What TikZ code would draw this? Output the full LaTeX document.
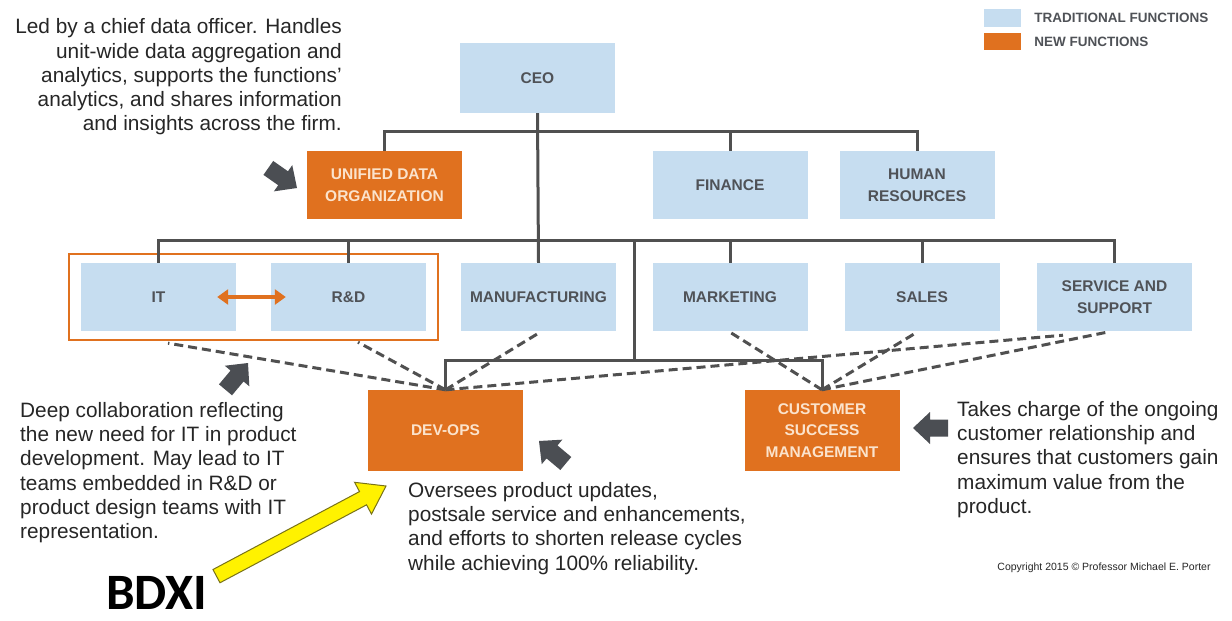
\documentclass[tikz,border=0pt]{standalone}
\usepackage{fontspec}
\setmainfont{Liberation Sans}
\newfontfamily\bdxifont{Carlito}
\usetikzlibrary{positioning,calc,fit,arrows.meta}
\definecolor{tradblue}{HTML}{C6DDF0}
\definecolor{neworange}{HTML}{E0711F}
\definecolor{boxtext}{HTML}{4F5257}
\definecolor{newtext}{HTML}{FBE3CC}
\definecolor{linegray}{HTML}{505050}
\definecolor{arrowgray}{HTML}{4B4E53}
\definecolor{notetext}{HTML}{262626}
\tikzset{
  tradbox/.style={fill=tradblue, minimum width=155pt, minimum height=68pt, inner sep=0pt,
    align=center, text=boxtext, font=\bfseries\fontsize{15.5}{21.5}\selectfont},
  newbox/.style={tradbox, fill=neworange, text=newtext},
  itrdframe/.style={draw=neworange, line width=2pt, inner xsep=11.5pt, inner ysep=8.5pt},
  orgline/.style={draw=linegray, line width=3pt},
  dashline/.style={draw=linegray, line width=3pt, dash pattern=on 9pt off 5pt},
  note/.style={inner sep=0pt, text=notetext, font=\fontsize{20.8}{24.3}\selectfont},
  legend/.style={inner sep=0pt, text=boxtext, font=\bfseries\fontsize{13.5}{15}\selectfont}
}
\newcommand{\fatarrow}[2]{\fill[arrowgray, shift={#1}, rotate=#2] (0,0) -- (-17,16) -- (-17,8.5) -- (-35,8.5) -- (-35,-8.5) -- (-17,-8.5) -- (-17,-16) -- cycle;}
\begin{document}
\begin{tikzpicture}[x=1pt,y=-1pt]
\useasboundingbox[fill=white] (0,0) rectangle (1232,621);

\node[tradbox, minimum height=70pt] (ceo) at (537.5,78) {CEO};
\node[newbox] (udo) at (384.5,185) {UNIFIED DATA\\ORGANIZATION};
\node[tradbox] (fin) at (730,185) {FINANCE};
\node[tradbox] (hr) at (917,185) {HUMAN\\RESOURCES};
\node[tradbox] (it) at (158.5,297) {IT};
\node[tradbox] (rd) at (348.5,297) {R\&D};
\node[tradbox] (mfg) at (538.5,297) {MANUFACTURING};
\node[tradbox] (mkt) at (730,297) {MARKETING};
\node[tradbox] (sales) at (922,297) {SALES};
\node[tradbox] (serv) at (1114.5,297) {SERVICE AND\\SUPPORT};
\node[newbox, minimum height=81pt] (devops) at (445.5,430.5) {DEV-OPS};
\node[newbox, minimum height=81pt] (csm) at (822,430.5) {CUSTOMER\\SUCCESS\\MANAGEMENT};
\node[itrdframe, fit=(it)(rd)] (itrd) {};

\draw[orgline] (udo.north) -- ++(0,-19) -| (hr.north);
\draw[orgline] (fin.north) -- ++(0,-19);
\draw[orgline] (ceo.south) -- (mfg.north);
\draw[orgline] (it.north) -- ++(0,-22) -| (serv.north);
\foreach \n in {rd,mkt,sales} \draw[orgline] (\n.north) -- ++(0,-22);
\coordinate (bus2) at (634,241);
\coordinate (split) at (634,360);
\draw[orgline] (bus2) -- (split);
\draw[orgline] (devops.north) |- (split) -| (csm.north);

\draw[dashline] (devops.north) -- ($(it.south)+(9.5,12)$);
\draw[dashline] (devops.north) -- ($(rd.south)+(9.5,11)$);
\draw[dashline] (devops.north) -- ($(mfg.south)+(0,2)$);
\draw[dashline] (devops.north) -- ($(serv.south)+(-51.5,4)$);
\draw[dashline] (csm.north) -- ($(mkt.south)+(0,1)$);
\draw[dashline] (csm.north) -- ($(sales.south)+(-5,1)$);
\draw[dashline] (csm.north) -- ($(serv.south)+(-7.5,1)$);

\draw[{Triangle[length=11pt,width=15pt]}-{Triangle[length=11pt,width=15pt]}, draw=neworange, fill=neworange, line width=3.5pt] ([xshift=-19pt]it.east) -- ([xshift=15pt]rd.west);

\node[tradbox, minimum width=37pt, minimum height=18pt] (legtrad) at (1002.5,18) {};
\node[newbox, minimum width=37pt, minimum height=17pt] (legnew) at (1002.5,41.5) {};
\node[legend, right=13pt of legtrad] (legtradtext) {TRADITIONAL FUNCTIONS};
\node[legend, right=13pt of legnew] (legnewtext) {NEW FUNCTIONS};

\node[note, anchor=north east, align=right] (udonote) at (342,18.5) {Led by a chief data officer. Handles\\unit-wide data aggregation and\\analytics, supports the functions'\\analytics, and shares information\\and insights across the firm.};
\node[note, anchor=north west, align=left] (itnote) at (20,402) {Deep collaboration reflecting\\the new need for IT in product\\development. May lead to IT\\teams embedded in R\&D or\\product design teams with IT\\representation.};
\node[note, anchor=north west, align=left] (devnote) at (408,482) {Oversees product updates,\\postsale service and enhancements,\\and efforts to shorten release cycles\\while achieving 100\% reliability.};
\node[note, anchor=north west, align=left] (csmnote) at (957,401) {Takes charge of the ongoing\\customer relationship and\\ensures that customers gain\\maximum value from the\\product.};
\node[inner sep=0pt, text=notetext, font=\fontsize{10.5}{12}\selectfont] (copy) at (1104,568) {Copyright 2015 \textcopyright\ Professor Michael E. Porter};

\fatarrow{(297,188)}{-35}
\fatarrow{(248,363)}{50}
\fatarrow{(539,441)}{140}
\fatarrow{(913,428)}{180}

\filldraw[fill=yellow, draw=olive!80!black, line width=1pt, shift={(386,486)}, rotate=28] (0,0) -- (-26,18) -- (-26,7.5) -- (-192,7.5) -- (-192,-7.5) -- (-26,-7.5) -- (-26,-18) -- cycle;
\node[anchor=base west, inner sep=0pt, font=\bdxifont\bfseries\fontsize{51}{60}\selectfont] (bdxi) at (106,609) {BDXI};
\end{tikzpicture}
\end{document}
